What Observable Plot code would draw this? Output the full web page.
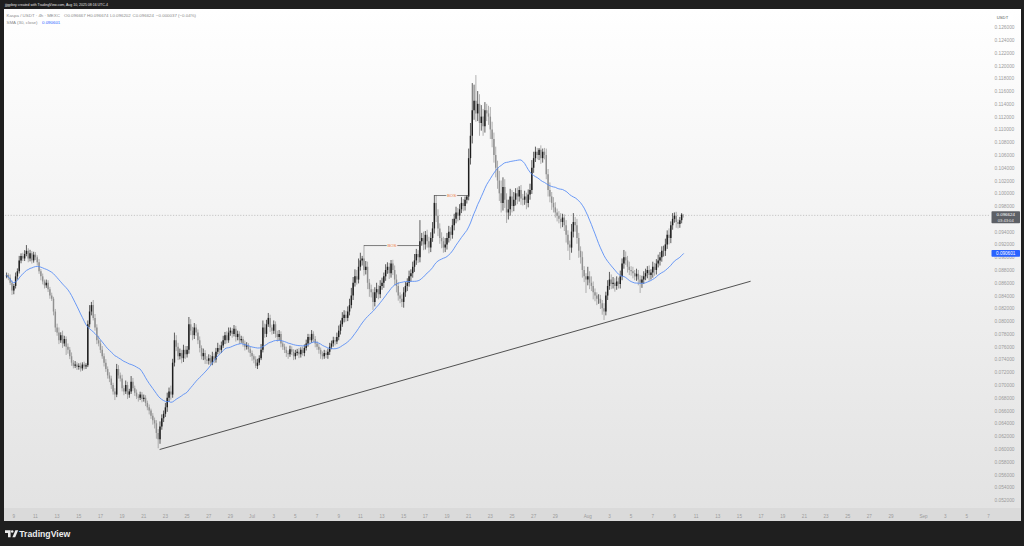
<!DOCTYPE html>
<html>
<head>
<meta charset="utf-8">
<script src="https://cdn.jsdelivr.net/npm/d3@7"></script>
<script src="https://cdn.jsdelivr.net/npm/@observablehq/plot@0.6"></script>
<style>
  html, body { margin:0; padding:0; background:#1f1f1f; }
  #page { position:relative; width:1024px; height:546px; overflow:hidden; background:#1f1f1f; }
  #panel { position:absolute; left:4px; top:9px; width:1017px; height:512px; background:linear-gradient(#ffffff 0%, #f2f2f2 45%, #e2e2e2 100%); }
  #xstrip { position:absolute; left:0; top:499px; width:1017px; height:13px; background:#dadada; }
  #chart { position:absolute; left:0; top:0; }
  #overlay { position:absolute; left:0; top:0; }
</style>
</head>
<body>
<div id="page">
  <div id="panel"><div id="xstrip"></div><div id="chart"></div></div>
  <svg id="overlay" width="1024" height="546"></svg>
</div>
<script>
// ---------------- DATA ----------------
const creditText = "jjjgpbey created with TradingView.com, Aug 10, 2025 08:16 UTC-4";
const symbolText = "Kaspa / USDT · 4h · MEXC";
const ohlcText = ["O0.096667", "H0.096674", "L0.096202", "C0.096624", "\u22120.000037 (\u22120.04%)"];
const smaText = "SMA (30, close)";
const smaLast = 0.090601;
const lastPrice = 0.096624;
const countdown = "03:43:04";
const quoteUnit = "USDT";

// 4h candles, first candle 2025-06-08 08:00; prices x 1e5
const firstCandle = "2025-06-08T08:00:00Z";
const firstOpen = 8700;
const closes = [
  8720, 8680, 8600, 8480,                 // Jun 8
  8550, 8700, 8780, 8950, 9020, 8980,     // Jun 9
  9050, 9100, 8980, 9060, 8950, 9040,     // Jun 10
  9000, 8920, 8780, 8700, 8620, 8560,     // Jun 11
  8600, 8500, 8400, 8350, 8150, 7900,     // Jun 12
  7820, 7700, 7780, 7650, 7720, 7600,     // Jun 13
  7550, 7450, 7350, 7300, 7320, 7280,     // Jun 14
  7300, 7260, 7320, 7290, 7310, 7950,     // Jun 15
  8150, 8250, 8050, 7900, 7700, 7650,     // Jun 16
  7550, 7450, 7350, 7250, 7150, 7100,     // Jun 17
  7000, 6900, 6850, 7250, 7150, 7100,     // Jun 18
  6950, 6900, 7000, 6850, 6900, 7050,     // Jun 19
  6950, 6880, 6820, 6800, 6850, 6780,     // Jun 20
  6800, 6720, 6650, 6600, 6520, 6450,     // Jun 21
  6400, 6250, 6150, 6350, 6480, 6550,     // Jun 22
  6650, 6800, 6900, 6850, 7350, 7700,     // Jun 23
  7600, 7450, 7500, 7420, 7550, 7480,     // Jun 24
  7550, 7950, 7850, 7780, 7900, 7820,     // Jun 25
  7700, 7580, 7450, 7500, 7400, 7380,     // Jun 26
  7420, 7350, 7450, 7400, 7520, 7580,     // Jun 27
  7550, 7620, 7700, 7780, 7700, 7820,     // Jun 28
  7850, 7800, 7880, 7750, 7800, 7700,     // Jun 29
  7720, 7650, 7600, 7620, 7560, 7500,     // Jun 30
  7450, 7400, 7300, 7350, 7420, 7550,     // Jul 1
  7900, 7800, 7950, 8050, 7900, 7850,     // Jul 2
  7950, 7800, 7750, 7800, 7650, 7600,     // Jul 3
  7550, 7500, 7480, 7560, 7520, 7450,     // Jul 4
  7500, 7520, 7480, 7550, 7500, 7580,     // Jul 5
  7650, 7750, 7700, 7800, 7720, 7650,     // Jul 6
  7600, 7550, 7480, 7450, 7500, 7470,     // Jul 7
  7520, 7600, 7650, 7700, 7680, 7750,     // Jul 8
  7850, 7950, 8050, 8100, 8050, 8150,     // Jul 9
  8250, 8400, 8600, 8700, 8650, 8850,     // Jul 10
  8950, 8980, 8800, 8850, 8600, 8500,     // Jul 11
  8450, 8300, 8450, 8500, 8420, 8550,     // Jul 12
  8600, 8700, 8800, 8850, 8750, 8900,     // Jul 13
  8800, 8650, 8550, 8400, 8350, 8300,     // Jul 14
  8450, 8550, 8600, 8700, 8750, 8850,     // Jul 15
  8950, 9050, 9000, 9250, 9300, 9200,     // Jul 16
  9350, 9250, 9150, 9300, 9450, 9850,     // Jul 17
  9650, 9450, 9300, 9250, 9150, 9200,     // Jul 18
  9300, 9400, 9350, 9500, 9600, 9700,     // Jul 19
  9650, 9750, 9850, 9800, 9900, 9950,     // Jul 20
  10550, 10900, 11300, 11450, 11250, 11400, // Jul 21
  11100, 11200, 11050, 11300, 11250, 11200, // Jul 22
  11000, 10850, 10600, 10400, 10200, 10000, // Jul 23
  9850, 10100, 9900, 9700, 9750, 9950,    // Jul 24
  9800, 9900, 10000, 9950, 10050, 9920,   // Jul 25
  9900, 9950, 9850, 9980, 10050, 10400,   // Jul 26
  10550, 10650, 10600, 10680, 10550, 10650, // Jul 27
  10600, 10300, 10050, 9950, 9850, 9780,  // Jul 28
  9700, 9650, 9600, 9550, 9620, 9500,     // Jul 29
  9350, 9200, 9150, 9400, 9550, 9500,     // Jul 30
  9300, 9100, 9000, 8800, 8700, 8650,     // Jul 31
  8700, 8600, 8550, 8450, 8400, 8350,     // Aug 1
  8350, 8280, 8200, 8150, 8400, 8550,     // Aug 2
  8650, 8580, 8600, 8550, 8620, 8580,     // Aug 3
  8700, 8900, 9000, 8950, 8850, 8800,     // Aug 4
  8780, 8750, 8700, 8740, 8650, 8600,     // Aug 5
  8650, 8700, 8750, 8800, 8720, 8760,     // Aug 6
  8850, 8800, 8900, 8950, 9000, 9100,     // Aug 7
  9100, 9200, 9350, 9300, 9500, 9600,     // Aug 8
  9650, 9550, 9520, 9580, 9667, 9662.4    // Aug 9
];
// upper wick above the body (price x 1e5)
const wickUp = [
  40, 30, 50, 35,
  30, 60, 45, 70, 40, 50,
  60, 90, 40, 55, 35, 45,
  40, 30, 50, 35, 45, 30,
  50, 40, 35, 45, 30, 40,
  60, 80, 45, 70, 50, 40,
  50, 45, 60, 40, 55, 35,
  40, 50, 35, 45, 30, 60,
  100, 50, 80, 60, 50, 70,
  50, 60, 45, 55, 40, 50,
  45, 35, 50, 80, 60, 45,
  60, 45, 70, 50, 40, 90,
  60, 40, 50, 35, 45, 40,
  50, 40, 35, 45, 30, 40,
  40, 50, 60, 80, 60, 50,
  70, 80, 60, 90, 60, 120,
  80, 60, 70, 50, 80, 60,
  60, 114, 80, 60, 70, 50,
  50, 60, 40, 70, 45, 50,
  60, 50, 70, 45, 60, 80,
  50, 60, 70, 50, 60, 80,
  50, 40, 58, 45, 50, 40,
  50, 40, 45, 50, 35, 40,
  40, 30, 50, 60, 45, 90,
  110, 60, 70, 77, 50, 45,
  60, 45, 50, 60, 40, 35,
  45, 50, 40, 55, 45, 40,
  50, 45, 60, 40, 50, 55,
  60, 50, 45, 60, 40, 45,
  40, 50, 35, 45, 50, 40,
  50, 60, 45, 55, 50, 70,
  80, 60, 90, 70, 60, 80,
  100, 120, 90, 110, 100, 130,
  120, 40, 210, 90, 80, 60,
  70, 50, 80, 100, 60, 90,
  80, 60, 90, 70, 60, 56,
  60, 70, 80, 60, 50, 70,
  80, 60, 70, 90, 60, 80,
  100, 80, 60, 330, 80, 100,
  60, 80, 70, 90, 100, 123,
  120, 100, 80, 90, 70, 100,
  80, 90, 70, 100, 80, 90,
  70, 80, 90, 60, 50, 20,
  150, 200, 425, 250, 400, 200,
  150, 180, 120, 127, 100, 120,
  150, 120, 100, 130, 110, 150,
  200, 150, 120, 100, 150, 120,
  100, 120, 80, 90, 60, 80,
  70, 90, 60, 80, 100, 120,
  100, 80, 60, 29, 70, 50,
  60, 100, 80, 120, 70, 90,
  80, 60, 70, 90, 60, 50,
  80, 70, 60, 120, 140, 80,
  100, 80, 70, 90, 60, 50,
  150, 80, 100, 70, 60, 50,
  70, 60, 50, 80, 60, 90,
  120, 80, 90, 70, 80, 60,
  90, 80, 113, 90, 70, 80,
  60, 70, 50, 80, 60, 70,
  60, 80, 70, 60, 70, 50,
  80, 60, 70, 90, 80, 70,
  80, 90, 70, 100, 60, 90,
  50, 60, 40, 50, 23, 0.4
];
// lower wick below the body (price x 1e5)
const wickDown = [
  30, 40, 35, 70,
  60, 40, 50, 35, 45, 40,
  40, 35, 60, 45, 50, 35,
  45, 50, 40, 60, 45, 50,
  40, 45, 50, 35, 60, 70,
  50, 60, 40, 70, 45, 130,
  60, 45, 50, 40, 35, 45,
  40, 50, 35, 45, 40, 30,
  50, 60, 40, 50, 60, 45,
  50, 40, 60, 45, 50, 55,
  60, 50, 85, 40, 50, 45,
  50, 60, 40, 70, 50, 40,
  45, 50, 40, 60, 35, 50,
  40, 50, 45, 60, 50, 70,
  80, 90, 140, 70, 50, 60,
  50, 70, 60, 80, 50, 60,
  70, 60, 50, 80, 60, 70,
  50, 60, 70, 80, 60, 50,
  60, 70, 50, 60, 70, 50,
  60, 50, 40, 60, 50, 40,
  60, 50, 40, 60, 50, 40,
  50, 60, 40, 70, 50, 60,
  40, 50, 60, 45, 50, 60,
  70, 60, 35, 50, 40, 30,
  40, 60, 50, 40, 70, 60,
  50, 60, 70, 50, 60, 50,
  50, 60, 70, 40, 50, 60,
  50, 40, 60, 50, 40, 50,
  40, 50, 60, 40, 50, 60,
  50, 60, 70, 50, 40, 50,
  60, 50, 40, 50, 60, 40,
  50, 60, 40, 70, 60, 50,
  60, 50, 70, 60, 80, 60,
  60, 80, 90, 70, 100, 120,
  80, 126, 70, 90, 80, 60,
  60, 80, 70, 60, 90, 70,
  80, 90, 100, 80, 70, 80,
  90, 70, 80, 60, 80, 70,
  80, 70, 90, 80, 70, 90,
  80, 100, 90, 70, 60, 80,
  100, 120, 90, 110, 80, 70,
  80, 70, 90, 60, 80, 70,
  90, 70, 60, 80, 70, 60,
  60, 100, 120, 150, 130, 120,
  200, 120, 150, 100, 120, 130,
  150, 130, 120, 150, 130, 120,
  150, 120, 130, 165, 110, 100,
  100, 80, 90, 120, 80, 100,
  90, 80, 100, 70, 80, 60,
  80, 60, 70, 80, 90, 70,
  70, 80, 100, 90, 110, 80,
  80, 90, 70, 100, 80, 90,
  120, 100, 194, 80, 90, 100,
  90, 110, 100, 120, 90, 210,
  90, 100, 80, 110, 90, 100,
  80, 90, 100, 133, 60, 70,
  60, 80, 70, 90, 60, 70,
  70, 60, 80, 70, 90, 80,
  70, 80, 60, 70, 90, 160,
  80, 70, 60, 80, 90, 70,
  80, 90, 70, 60, 80, 70,
  90, 80, 70, 100, 80, 70,
  60, 90, 70, 60, 50, 42.2
];

// annotations
const trendTimes = ["2025-06-22T12:00:00Z", "2025-08-16T00:00:00Z"];
const trendPrices = [0.06000, 0.08630];
const bosStart = ["2025-07-11T08:00:00Z", "2025-07-17T20:00:00Z"];
const bosEnd   = ["2025-07-16T12:00:00Z", "2025-07-21T00:00:00Z"];
const bosLevel = [0.09190, 0.09973];
const bosLabel = ["BOS", "BOS"];

// axis ticks
const yTicks = [0.052,0.054,0.056,0.058,0.060,0.062,0.064,0.066,0.068,0.070,0.072,0.074,0.076,0.078,0.080,0.082,0.084,0.086,0.088,0.090,0.092,0.094,0.096,0.098,0.100,0.102,0.104,0.106,0.108,0.110,0.112,0.114,0.116,0.118,0.120,0.122,0.124,0.126];
const xTickDates = ["2025-06-09","2025-06-11","2025-06-13","2025-06-15","2025-06-17","2025-06-19","2025-06-21","2025-06-23","2025-06-25","2025-06-27","2025-06-29",
  "2025-07-01","2025-07-03","2025-07-05","2025-07-07","2025-07-09","2025-07-11","2025-07-13","2025-07-15","2025-07-17","2025-07-19","2025-07-21","2025-07-23","2025-07-25","2025-07-27","2025-07-29",
  "2025-08-01","2025-08-03","2025-08-05","2025-08-07","2025-08-09","2025-08-11","2025-08-13","2025-08-15","2025-08-17","2025-08-19","2025-08-21","2025-08-23","2025-08-25","2025-08-27","2025-08-29",
  "2025-09-01","2025-09-03","2025-09-05","2025-09-07"];
const xTickLabels = ["9","11","13","15","17","19","21","23","25","27","29",
  "Jul","3","5","7","9","11","13","15","17","19","21","23","25","27","29",
  "Aug","3","5","7","9","11","13","15","17","19","21","23","25","27","29",
  "Sep","3","5","7"];

// ---------------- BUILD ----------------
const t0 = Date.parse(firstCandle);
const H4 = 4 * 3600e3;
const candles = closes.map((c, i) => {
  const o = i === 0 ? firstOpen : closes[i - 1];
  return {
    time: new Date(t0 + i * H4),
    open: o / 1e5,
    close: c / 1e5,
    high: (Math.max(o, c) + wickUp[i]) / 1e5,
    low: (Math.min(o, c) - wickDown[i]) / 1e5
  };
});
const trend = trendTimes.map((t, i) => ({time: new Date(t), price: trendPrices[i]}));
const bos = bosLevel.map((v, i) => ({from: new Date(bosStart[i]), to: new Date(bosEnd[i]), level: v, label: bosLabel[i]}));
const xTicks = xTickDates.map(d => new Date(d + "T00:00:00Z"));
const xLabelMap = new Map(xTicks.map((d, i) => [+d, xTickLabels[i]]));
// the axis labels hidden behind the last-price box are not shown
const yTicksShown = yTicks.filter(v => Math.abs(v - lastPrice) > 0.001);

const day0 = Date.parse("2025-06-09T00:00:00Z");
const DAY = 864e5;
const up = d => d.close >= d.open;
const dn = d => d.close < d.open;
const UP = "#1e1e1e", DOWN = "#909090";
const FONT = "'Liberation Sans', Arial, sans-serif";

const plot = Plot.plot({
  width: 1017, height: 512,
  marginLeft: 1, marginRight: 31, marginTop: 0, marginBottom: 13,
  style: {background: "transparent", fontFamily: FONT, overflow: "visible"},
  x: {type: "utc", domain: [new Date(day0 - 0.7664 * DAY), new Date(day0 + 90.185 * DAY)]},
  y: {domain: [0.050751, 0.128842]},
  marks: [
    Plot.ruleY([lastPrice], {stroke: "#a8a8a8", strokeWidth: 0.6, strokeDasharray: "1.2,1.6"}),
    Plot.line(trend, {x: "time", y: "price", stroke: "#2a2a2a", strokeWidth: 0.8}),
    Plot.ruleX(candles, {filter: dn, x: "time", y1: "low", y2: "high", stroke: DOWN, strokeWidth: 0.7}),
    Plot.ruleX(candles, {filter: dn, x: "time", y1: "open", y2: "close", stroke: DOWN, strokeWidth: 1.45}),
    Plot.ruleX(candles, {filter: up, x: "time", y1: "low", y2: "high", stroke: UP, strokeWidth: 0.7}),
    Plot.ruleX(candles, {filter: up, x: "time", y1: "open", y2: "close", stroke: UP, strokeWidth: 1.45}),
    Plot.lineY(candles, Plot.windowY({k: 30, anchor: "end", reduce: "mean"}, {x: "time", y: "close", stroke: "#5289f5", strokeWidth: 0.85})),
    Plot.link(bos, {x1: "from", x2: "to", y1: "level", y2: "level", stroke: "#4a4a4a", strokeWidth: 0.7}),
    Plot.text(bos, {x: d => new Date((+d.from + +d.to) / 2), y: "level", text: "label", fill: "#ee7d45", stroke: "#f4f4f4", strokeWidth: 2.2, fontSize: 4.3}),
    Plot.axisY(yTicksShown, {anchor: "right", tickSize: 0, tickPadding: 4, fontSize: 4.8, fill: "#9b9b9b", tickFormat: d => d.toFixed(6)}),
    Plot.axisX(xTicks, {anchor: "bottom", tickSize: 0, tickPadding: 6.5, fontSize: 4.6, fill: "#9b9b9b", tickFormat: d => xLabelMap.get(+d)})
  ]
});
document.getElementById("chart").appendChild(plot);

// ---------------- OVERLAY TEXT ----------------
const ys = plot.scale("y");
const yf = d3.scaleLinear(ys.domain, ys.range);
const PY = 9; // panel offset on page
const ov = d3.select("#overlay").attr("font-family", FONT);

ov.append("text").attr("x", 5).attr("y", 5.6).attr("font-size", 3.5).attr("fill", "#e4e4e4").text(creditText);

const l1 = ov.append("text").attr("y", 17.2).attr("font-size", 4.4).attr("fill", "#8a8a8a");
l1.append("tspan").attr("x", 6.5).text(symbolText);
[64, 87, 110, 132.5, 156].forEach((x, i) => l1.append("tspan").attr("x", x).text(ohlcText[i]));
const l2 = ov.append("text").attr("y", 24.2).attr("font-size", 4.4).attr("fill", "#8a8a8a");
l2.append("tspan").attr("x", 6.5).text(smaText);
l2.append("tspan").attr("x", 42).attr("fill", "#2962ff").text(smaLast.toFixed(6));

// unit box
ov.append("rect").attr("x", 992.5).attr("y", 12.8).attr("width", 20).attr("height", 8.6).attr("fill", "#ffffff").attr("rx", 0.8);
ov.append("text").attr("x", 1002.5).attr("y", 17.1).attr("dy", "0.35em").attr("text-anchor", "middle").attr("font-size", 4.2).attr("fill", "#555").text(quoteUnit);

// last price box (price + countdown)
const yP = PY + yf(lastPrice);
ov.append("rect").attr("x", 991.5).attr("y", yP - 3.6).attr("width", 28.5).attr("height", 12).attr("fill", "#5d6066").attr("rx", 0.8);
ov.append("text").attr("x", 1005.7).attr("y", yP).attr("dy", "0.35em").attr("text-anchor", "middle").attr("font-size", 4.4).attr("fill", "#fff").text(lastPrice.toFixed(6));
ov.append("text").attr("x", 1005.7).attr("y", yP + 5.6).attr("dy", "0.35em").attr("text-anchor", "middle").attr("font-size", 4.1).attr("fill", "#e8e8e8").text(countdown);

// SMA box
const yS = PY + yf(smaLast);
ov.append("rect").attr("x", 991.5).attr("y", yS - 3.4).attr("width", 28.5).attr("height", 6.8).attr("fill", "#2962ff").attr("rx", 0.8);
ov.append("text").attr("x", 1005.7).attr("y", yS).attr("dy", "0.35em").attr("text-anchor", "middle").attr("font-size", 4.6).attr("fill", "#fff").text(smaLast.toFixed(6));

// TradingView logo
const lg = ov.append("g").attr("fill", "#ececec");
lg.append("path").attr("d", "M5 530.3h5.6v6.9h-2.6v-4.3h-3z");
lg.append("circle").attr("cx", 12.2).attr("cy", 531.6).attr("r", 1.25);
lg.append("path").attr("d", "M12.4 537.2l3-6.9h2.8l-3 6.9z");
ov.append("text").attr("x", 19.3).attr("y", 537.1).attr("font-size", 8.7).attr("font-weight", 600).attr("fill", "#ececec").text("TradingView");
</script>
</body>
</html>
